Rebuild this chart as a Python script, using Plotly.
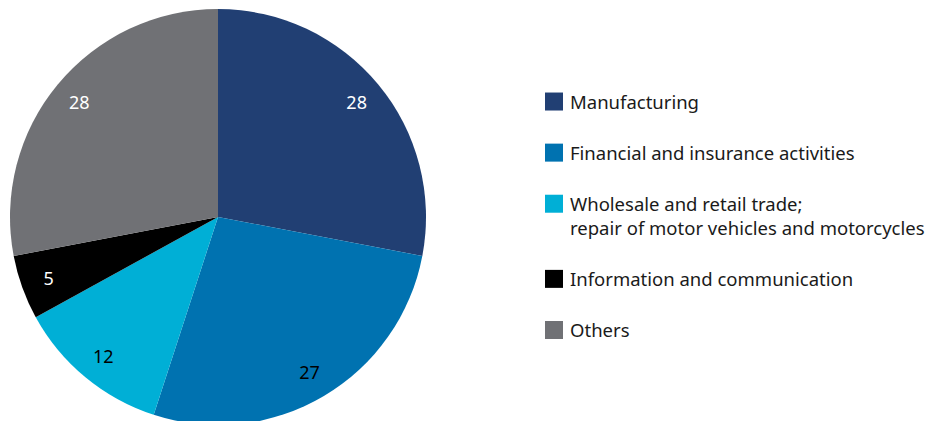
import plotly.graph_objects as go

categories = [
    "Manufacturing",
    "Financial and insurance activities",
    "Wholesale and retail trade;<br>repair of motor vehicles and motorcycles",
    "Information and communication",
    "Others",
]
values = [28, 27, 12, 5, 28]
colors = ["#213f73", "#0072b0", "#00afd6", "#000000", "#707175"]
label_colors = ["white", "black", "black", "white", "white"]

legend_labels = [c + "<br>&nbsp;" for c in categories]

# figure slightly larger than the 925x421 window (page overflow is hidden):
# the pie's bottom and the legend's right padding run just past the edge
W, H = 945, 430
pie_domain = dict(x=[10 / W, 426 / W], y=[0, 1])

fig = go.Figure()

# coloured slices (legend source)
fig.add_trace(
    go.Pie(
        labels=legend_labels,
        values=values,
        marker=dict(colors=colors, line=dict(width=0)),
        sort=False,
        direction="clockwise",
        rotation=0,
        textinfo="none",
        domain=pie_domain,
        hoverinfo="label+value",
    )
)

# transparent ring carrying the value labels near the outer edge
fig.add_trace(
    go.Pie(
        labels=legend_labels,
        values=values,
        hole=0.73,
        marker=dict(colors=["rgba(0,0,0,0)"] * len(values), line=dict(width=0)),
        sort=False,
        direction="clockwise",
        rotation=0,
        textinfo="value",
        textposition="inside",
        insidetextorientation="horizontal",
        insidetextfont=dict(color=label_colors, size=18, family="Noto Sans"),
        domain=pie_domain,
        showlegend=False,
        hoverinfo="skip",
    )
)

fig.update_layout(
    width=W,
    height=H,
    margin=dict(l=0, r=0, t=9, b=5),
    paper_bgcolor="white",
    plot_bgcolor="white",
    font=dict(family="Noto Sans", size=18.5, color="#1a1a1a"),
    showlegend=True,
    legend=dict(
        x=530 / W,
        xanchor="left",
        y=1 - 74 / 416,
        yanchor="top",
        valign="top",
        font=dict(size=18.5, family="Noto Sans", color="#1a1a1a"),
        bgcolor="rgba(0,0,0,0)",
    ),
)

post = """
var gd = document.getElementById('{plot_id}');
document.documentElement.style.overflow = 'hidden';
document.body.style.margin = '0';
document.body.style.overflow = 'hidden';
function bigSwatch() {
  gd.querySelectorAll('path.legendpie').forEach(function (p) {
    p.setAttribute('d', 'M13,9H-5V-9H13Z');
  });
}
bigSwatch();
if (gd.on) { gd.on('plotly_afterplot', bigSwatch); }
setTimeout(bigSwatch, 0);
setTimeout(bigSwatch, 300);
"""

fig.write_html("out.html", post_script=post, config={"displayModeBar": False})
